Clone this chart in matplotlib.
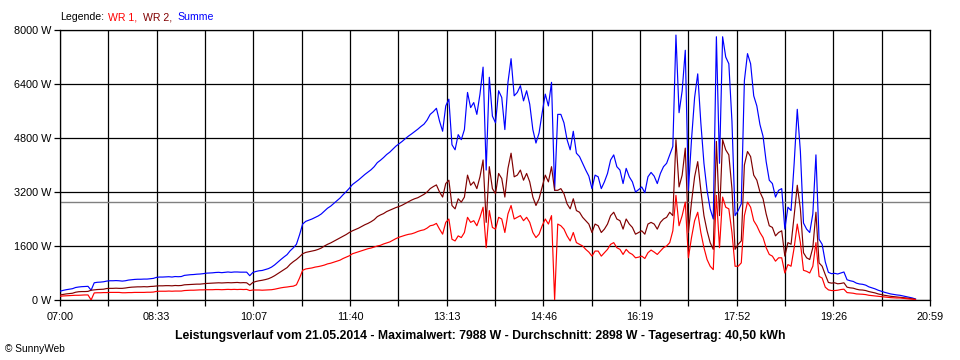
import numpy as np
import matplotlib
matplotlib.use("Agg")
import matplotlib.pyplot as plt
from matplotlib.ticker import FixedLocator

plt.rcParams['font.family'] = ['Liberation Sans', 'DejaVu Sans']

# ---- data (3 minute samples from 07:00) ----
step_min = 3
x_labels = ['07:00', '08:33', '10:07', '11:40', '13:13', '14:46', '16:19', '17:52', '19:26', '20:59']
y_ticks = [0, 1600, 3200, 4800, 6400, 8000]
average_w = 2898

# WR 1 (red), one row per hour
wr1 = [
    110, 120, 125, 130, 135, 140, 140, 145, 150, 150, 0, 210, 215, 215, 220, 220, 225, 225, 225, 225,            # 07
    215, 215, 220, 220, 225, 225, 225, 225, 230, 230, 235, 255, 260, 260, 260, 265, 260, 265, 265, 265,          # 08
    280, 285, 290, 290, 295, 300, 300, 305, 305, 305, 310, 310, 305, 310, 315, 310, 315, 310, 315, 310,          # 09
    315, 280, 296, 296, 296, 290, 296, 300, 305, 320, 340, 360, 375, 385, 400, 410, 450, 650, 880, 920,          # 10
    935, 950, 975, 990, 1010, 1035, 1070, 1090, 1120, 1150, 1180, 1230, 1270, 1310, 1370, 1400, 1430, 1460, 1490, 1520,  # 11
    1540, 1570, 1600, 1620, 1660, 1690, 1720, 1770, 1820, 1860, 1890, 1920, 1945, 1960, 1990, 2030, 2060, 2080, 2130, 2200,  # 12
    2220, 2270, 2100, 1950, 2300, 2400, 1800, 1750, 1900, 1850, 2000, 2450, 2300, 2350, 2200, 2450, 2750, 1550, 2650, 2150,  # 13
    2100, 2450, 2400, 2000, 2550, 2800, 2400, 2450, 2500, 2350, 2450, 2300, 2000, 1850, 1950, 2200, 2400, 2250, 2500, 0,     # 14
    2250, 2200, 2100, 1900, 1750, 2000, 1700, 1650, 1600, 1500, 1420, 1300, 1450, 1450, 1300, 1400, 1500, 1650, 1700, 1550,  # 15
    1500, 1350, 1500, 1400, 1350, 1250, 1270, 1300, 1230, 1400, 1480, 1420, 1350, 1450, 1550, 1600, 1700, 2050, 3100, 2200,  # 16
    2500, 2900, 1250, 1850, 2350, 2600, 2000, 1550, 1200, 1000, 900, 3100, 1550, 3050, 2750, 2700, 2000, 1000, 1000, 1100,   # 17
    2500, 2900, 2750, 2350, 2200, 2000, 1850, 1550, 1350, 1300, 1150, 1250, 1250, 800, 1050, 1000, 1550, 2250, 1700, 880,    # 18
    850, 800, 1000, 1700, 700, 650, 380, 300, 280, 280, 290, 310, 320, 220, 210, 200, 180, 175, 170, 160,                   # 19
    140, 130, 120, 110, 100, 90, 80, 70, 65, 60, 60, 50, 40, 30, 25, 10,                                                     # 20
]

# WR 2 (dark red)
wr2 = [
    150, 165, 180, 190, 200, 230, 245, 250, 250, 255, 290, 300, 310, 315, 320, 340, 345, 345, 350, 345,          # 07
    345, 355, 370, 380, 385, 390, 390, 395, 390, 400, 405, 415, 420, 420, 425, 425, 420, 430, 425, 430,          # 08
    450, 455, 460, 465, 470, 470, 480, 490, 495, 500, 505, 510, 505, 510, 515, 510, 515, 520, 510, 515,          # 09
    510, 440, 520, 550, 570, 585, 605, 630, 670, 720, 780, 840, 900, 960, 1060, 1136, 1200, 1280, 1370, 1410,    # 10
    1430, 1450, 1470, 1500, 1540, 1600, 1650, 1690, 1740, 1790, 1840, 1890, 1940, 2000, 2050, 2090, 2130, 2180, 2230, 2270,  # 11
    2320, 2380, 2470, 2520, 2560, 2620, 2660, 2700, 2740, 2770, 2810, 2860, 2910, 2960, 3000, 3030, 3080, 3130, 3200, 3300,  # 12
    3360, 3410, 3200, 3050, 3450, 3550, 2800, 2700, 3000, 2900, 3050, 3700, 3400, 3500, 3300, 3650, 4150, 2300, 3950, 3300,  # 13
    3150, 3750, 3600, 3050, 3900, 4350, 3650, 3700, 3850, 3550, 3750, 3500, 3050, 2800, 3000, 3350, 3700, 3500, 3950, 3250,  # 14
    3250, 3300, 3150, 2850, 2700, 3000, 2650, 2600, 2450, 2350, 2250, 2000, 2250, 2200, 2000, 2100, 2250, 2500, 2600, 2400,  # 15
    2350, 2100, 2400, 2250, 2150, 1950, 2000, 2050, 1950, 2250, 2300, 2250, 2100, 2300, 2400, 2450, 2600, 2500, 4750, 3350,  # 16
    3700, 4500, 2000, 2900, 3650, 4100, 3250, 2500, 2050, 1700, 1500, 4700, 2500, 4750, 4450, 4300, 3300, 1500, 1650, 1750,  # 17
    4000, 4400, 4250, 3700, 3550, 3200, 3000, 2550, 2200, 2150, 1900, 2000, 2050, 1300, 1700, 1650, 2500, 3400, 2700, 1400,  # 18
    1250, 1200, 1550, 2600, 1100, 1000, 750, 520, 500, 510, 480, 490, 510, 380, 360, 350, 320, 300, 295, 280,               # 19
    250, 230, 210, 180, 160, 140, 125, 110, 100, 90, 80, 70, 60, 50, 35, 20,                                                 # 20
]

times = np.arange(len(wr1)) * step_min          # minutes after 07:00
summe = np.array(wr1) + np.array(wr2)           # Summe = WR 1 + WR 2

RED, DARK, BLUE = '#ff0000', '#800000', '#0000ff'

fig = plt.figure(figsize=(9.6, 3.6), dpi=100)
ax = fig.add_axes([60 / 960, 60 / 360, 870 / 960, 270 / 360])
ax.set_xlim(0, 839)
ax.set_ylim(0, 8000)

# grid: every 1600 W, time gridlines every ~46.6 minutes, labels every 2nd one
ax.xaxis.set_major_locator(FixedLocator(np.linspace(0, 839, 10)))
ax.xaxis.set_minor_locator(FixedLocator(np.linspace(0, 839, 19)))
ax.set_xticklabels(x_labels)
ax.set_yticks(y_ticks)
ax.set_yticklabels([f'{v} W' for v in y_ticks])
ax.grid(True, which='both', axis='x', color='black', lw=0.9)
ax.grid(True, which='major', axis='y', color='black', lw=0.9)
ax.set_axisbelow(True)
ax.tick_params(which='both', direction='out', length=4, width=0.9, color='black', labelsize=7.8)
ax.tick_params(axis='x', pad=5)
ax.tick_params(axis='y', pad=2)
for sp in ax.spines.values():
    sp.set_color('black')
    sp.set_linewidth(0.9)

# average line
ax.axhline(average_w, color='#808080', lw=1.0, zorder=1.5)

ax.plot(times, summe, color=BLUE, lw=0.85, zorder=3)
ax.plot(times, wr2, color=DARK, lw=0.85, zorder=4)
ax.plot(times, wr1, color=RED, lw=0.85, zorder=5)

# legend line at the top
ly = 1 - 17 / 360
fig.text(60 / 960, ly, 'Legende:', color='black', fontsize=7.6, va='center')
fig.text(108 / 960, ly, 'WR 1,', color=RED, fontsize=7.6, va='center')
fig.text(143 / 960, ly, 'WR 2,', color=DARK, fontsize=7.6, va='center')
fig.text(177 / 960, ly, 'Summe', color=BLUE, fontsize=7.6, va='center')

fig.text(0.5, 1 - 336 / 360,
         'Leistungsverlauf vom 21.05.2014 - Maximalwert: 7988 W - Durchschnitt: 2898 W - Tagesertrag: 40,50 kWh',
         fontsize=8.8, fontweight='bold', ha='center', va='center')
fig.text(5 / 960, 1 - 349 / 360, '\u00a9 SunnyWeb', fontsize=7.3, va='center')

fig.savefig('out.png', dpi=100)
